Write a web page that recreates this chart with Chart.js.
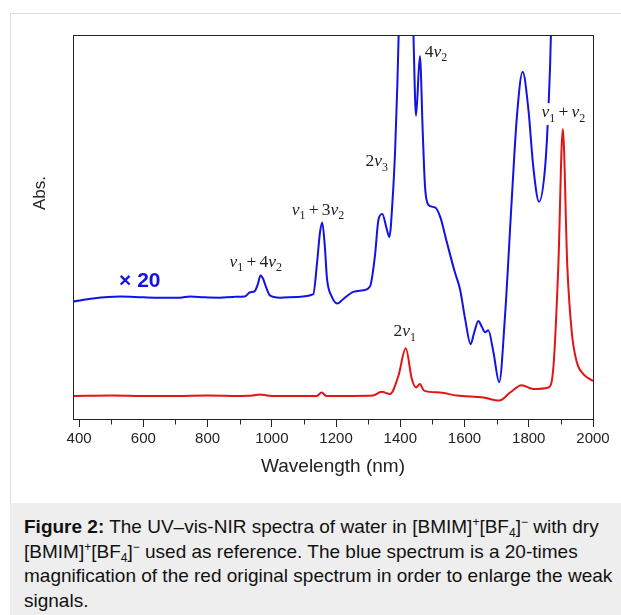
<!DOCTYPE html>
<html><head><meta charset="utf-8">
<script src="https://cdn.jsdelivr.net/npm/chart.js@4"></script>
<style>
html,body{margin:0;padding:0;background:#fff;width:621px;height:615px;overflow:hidden;}
#card{position:absolute;left:10px;top:13px;width:620px;height:610px;border:1px solid #dcdcdc;box-sizing:border-box;}
#cap{position:absolute;left:10px;top:503px;width:620px;height:120px;background:#eeeeee;font-family:"Liberation Sans",Arial,sans-serif;font-size:19px;line-height:24.6px;color:#111;padding:12px 0 0 14px;box-sizing:border-box;white-space:nowrap;}
#cap sup,#cap sub{font-size:12px;vertical-align:baseline;position:relative;line-height:0;}
#cap sup{top:-7px;}
#cap sub{top:4px;}
#chart{position:absolute;left:0;top:0;width:621px;height:500px;}
</style></head><body>
<div id="card"></div>
<div id="cap"><b>Figure 2:</b> The UV–vis-NIR spectra of water in [BMIM]<sup>+</sup>[BF<sub>4</sub>]<sup>−</sup> with dry<br>[BMIM]<sup>+</sup>[BF<sub>4</sub>]<sup>−</sup> used as reference. The blue spectrum is a 20-times<br>magnification of the red original spectrum in order to enlarge the weak<br>signals.</div>
<canvas id="chart" width="621" height="500"></canvas>
<script>
// ---- data (wavelength in nm, absorbance in arbitrary units) ----
const blueWl = [381,443,527,600,651,714,745,790,838,880,916,932,947,956,965,973,981,994,1025,1080,1129,1141,1150,1157,1165,1172,1186,1204,1222,1254,1285,1306,1321,1332,1344,1358,1366,1376,1384,1391,1395,1405,1420,1435,1441,1449,1461,1470,1477,1487,1508,1524,1545,1570,1586,1602,1619,1630,1643,1654,1664,1674,1690,1708,1726,1747,1763,1781,1799,1814,1832,1851,1861,1869,1880,1906,1950,2000];
const blueAbs = [0.306,0.314,0.319,0.317,0.316,0.316,0.319,0.317,0.316,0.318,0.319,0.330,0.333,0.350,0.374,0.365,0.346,0.322,0.316,0.318,0.325,0.408,0.486,0.512,0.450,0.364,0.320,0.301,0.312,0.331,0.335,0.346,0.424,0.519,0.534,0.494,0.474,0.571,0.701,0.875,1.003,1.30,1.40,1.20,1.0,0.790,0.945,0.745,0.605,0.558,0.551,0.527,0.460,0.382,0.338,0.260,0.195,0.225,0.255,0.240,0.226,0.231,0.174,0.096,0.268,0.571,0.787,0.904,0.805,0.657,0.566,0.657,0.805,1.0,1.6,3.0,2.5,1.4];
const redWl = [381,500,600,700,800,900,940,963,985,1000,1100,1140,1155,1170,1250,1315,1342,1368,1394,1417,1436,1449,1461,1474,1524,1576,1659,1708,1742,1778,1814,1861,1877,1892,1906,1920,1934,1950,1970,2000];
const redAbs = [0.060,0.061,0.060,0.060,0.061,0.060,0.061,0.064,0.061,0.060,0.060,0.060,0.069,0.060,0.060,0.061,0.071,0.065,0.112,0.184,0.104,0.082,0.091,0.074,0.069,0.061,0.056,0.048,0.069,0.088,0.078,0.082,0.138,0.398,0.755,0.398,0.225,0.147,0.117,0.099];
const xTicks = [400,600,800,1000,1200,1400,1600,1800,2000];
const xMinorTicks = [500,700,900,1100,1300,1500,1700,1900];
// peak labels: anchor wavelength / absorbance (v = nu, _ = subscript)
const peakLabels = [
  {text:'v_1 + 4v_2', wl:950, abs:0.397},
  {text:'v_1 + 3v_2', wl:1144, abs:0.532},
  {text:'2v_3', wl:1327, abs:0.658},
  {text:'4v_2', wl:1511, abs:0.944},
  {text:'v_1 + v_2', wl:1908, abs:0.786, bg:true},
  {text:'2v_1', wl:1414, abs:0.216}
];
const magLabel = {text:'× 20', wl:589, abs:0.345};

const BLUE = '#1212e6', RED = '#e31414', INK = '#222';

function drawRich(ctx, str, cx, by, size, bg){
  const segs=[];
  for(let i=0;i<str.length;i++){
    const c=str[i];
    if(c==='_') segs.push({t:str[++i],sub:true});
    else if(c==='v') segs.push({t:'v',it:true});
    else if(c===' ') segs.push({t:' ',sp:true});
    else segs.push({t:c});
  }
  const fam='"Liberation Serif","DejaVu Serif",serif';
  const fontFor=s=> s.sub? `${Math.round(size*0.7)}px ${fam}` : s.it? `italic ${size}px ${fam}` : `${size}px ${fam}`;
  let w=0;
  segs.forEach(s=>{ctx.font=fontFor(s); s.w = s.sp? size*0.18 : ctx.measureText(s.t).width; w+=s.w;});
  let xx=cx-w/2;
  if(bg){ctx.fillStyle='#fff'; ctx.fillRect(xx-2, by-size*0.8, w+4, size*1.25);}
  ctx.fillStyle=INK;
  segs.forEach(s=>{ctx.font=fontFor(s); if(!s.sp) ctx.fillText(s.t, xx, by + (s.sub? size*0.27:0)); xx+=s.w;});
}

const deco = {
  id:'deco',
  afterDraw(chart){
    const {ctx, chartArea:a, scales:{x,y}} = chart;
    ctx.save();
    ctx.strokeStyle=INK; ctx.lineWidth=1;
    const L=Math.floor(a.left)+0.5, T=Math.floor(a.top)+0.5, R=Math.floor(a.right)+0.5, B=Math.floor(a.bottom)+0.5;
    ctx.strokeRect(L,T,R-L,B-T);
    ctx.beginPath();
    xMinorTicks.forEach(m=>{const px=Math.round(x.getPixelForValue(m))+0.5; ctx.moveTo(px,B); ctx.lineTo(px,B+5);});
    ctx.stroke();
    ctx.textBaseline='alphabetic'; ctx.textAlign='left';
    peakLabels.forEach(l=>drawRich(ctx,l.text,x.getPixelForValue(l.wl),y.getPixelForValue(l.abs),17.5,l.bg));
    ctx.font='bold 21px "Liberation Sans",Arial,sans-serif';
    ctx.fillStyle=BLUE; ctx.textAlign='center';
    ctx.fillText(magLabel.text, x.getPixelForValue(magLabel.wl), y.getPixelForValue(magLabel.abs));
    ctx.translate(40,193); ctx.rotate(-Math.PI/2);
    ctx.font='17px "Liberation Sans",Arial,sans-serif';
    ctx.fillStyle=INK; ctx.textBaseline='middle';
    ctx.fillText('Abs.',0,0);
    ctx.restore();
  }
};

new Chart(document.getElementById('chart'), {
  type:'line',
  data:{datasets:[
    {label:'×20', data:blueWl.map((w,i)=>({x:w,y:blueAbs[i]})), borderColor:BLUE, borderWidth:2, pointRadius:0, fill:false, cubicInterpolationMode:'monotone'},
    {label:'original', data:redWl.map((w,i)=>({x:w,y:redAbs[i]})), borderColor:RED, borderWidth:2, pointRadius:0, fill:false, cubicInterpolationMode:'monotone'}
  ]},
  options:{
    responsive:false, animation:false, devicePixelRatio:1,
    layout:{padding:{left:0,top:35,right:28,bottom:18}},
    plugins:{legend:{display:false}, tooltip:{enabled:false}},
    scales:{
      x:{type:'linear', min:381, max:2000,
        afterBuildTicks:s=>{s.ticks=xTicks.map(v=>({value:v}));},
        afterFit:s=>{s.height=63;},
        ticks:{font:{family:'"Liberation Sans",Arial,sans-serif',size:15}, color:INK, padding:3, maxRotation:0, autoSkip:false, callback:v=>String(v)},
        grid:{display:true, drawOnChartArea:false, drawTicks:true, tickLength:8, tickColor:INK},
        border:{display:false},
        title:{display:true, text:'Wavelength (nm)', color:INK, font:{family:'"Liberation Sans",Arial,sans-serif',size:19}, padding:{top:4,bottom:4}}
      },
      y:{type:'linear', min:0, max:1,
        afterFit:s=>{s.width=73;},
        ticks:{display:false}, grid:{display:false}, border:{display:false}
      }
    }
  },
  plugins:[deco]
});
</script>
</body></html>
